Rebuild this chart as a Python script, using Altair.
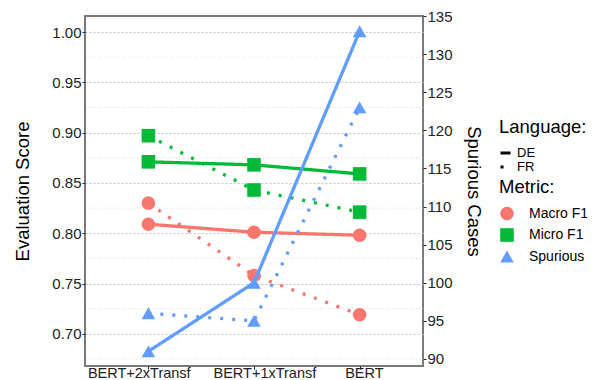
import altair as alt
import pandas as pd

models = ["BERT+2xTransf", "BERT+1xTransf", "BERT"]
macro_de = [0.809, 0.801, 0.798]
macro_fr = [0.830, 0.758, 0.719]
micro_de = [0.871, 0.868, 0.859]
micro_fr = [0.897, 0.843, 0.821]
spur_de = [91, 100, 133]
spur_fr = [96, 95, 123]

metrics = ["Macro F1", "Micro F1", "Spurious"]
languages = ["DE", "FR"]
colors = ["#F8766D", "#00BA38", "#619CFF"]
shapes = ["circle", "square", "triangle-up"]
dashes = [[1, 0], [3, 9]]
left_ticks = [0.70, 0.75, 0.80, 0.85, 0.90, 0.95, 1.00]
minor_grid = [0.675, 0.725, 0.775, 0.825, 0.875, 0.925, 0.975]
right_ticks = [90, 95, 100, 105, 110, 115, 120, 125, 130, 135]


def rows(metric, lang, vals):
    return [{"Model": m, "Metric": metric, "Language": lang, "Value": v}
            for m, v in zip(models, vals)]


f1 = pd.DataFrame(rows("Macro F1", "DE", macro_de) + rows("Macro F1", "FR", macro_fr)
                  + rows("Micro F1", "DE", micro_de) + rows("Micro F1", "FR", micro_fr))
sp = pd.DataFrame(rows("Spurious", "DE", spur_de) + rows("Spurious", "FR", spur_fr))
grid_df = pd.DataFrame({"v": minor_grid})

TXT = "#222222"
FONT = "Liberation Sans"

# label x-shift (layout) for the three category labels, as in the reference
label_offset = {
    "condition": [
        {"test": "datum.value === 'BERT+2xTransf'", "value": -61},
        {"test": "datum.value === 'BERT+1xTransf'", "value": -41},
    ],
    "value": -15,
}

xenc = alt.X("Model:N", sort=models,
             scale=alt.Scale(type="point", padding=0.6),
             axis=alt.Axis(title=None, labelAngle=0, domain=False, tickSize=3,
                           tickColor=TXT, labelFontSize=14.5, labelColor=TXT,
                           labelPadding=-3, labelBaseline="top", labelAlign="left",
                           labelOverlap=False, grid=False, labelOffset=label_offset))

lscale = alt.Scale(domain=[0.668, 1.016], nice=False, zero=False)
rscale = alt.Scale(domain=[89.08, 135], nice=False, zero=False)

color_scale = alt.Scale(domain=metrics, range=colors)
shape_scale = alt.Scale(domain=metrics, range=shapes)
# line colours: same colours, domain taken from the data (sorted = metrics order)
stroke_scale = alt.Scale(range=colors)
dash_scale = alt.Scale(domain=languages, range=dashes)

metric_legend = alt.Legend(title="Metric:", orient="none", legendX=414, legendY=162,
                           titleFontSize=18.5, titleFontWeight="normal", titleColor="#000",
                           titleFont=FONT, labelFont=FONT,
                           labelFontSize=14, labelColor="#000", rowPadding=6.5,
                           labelOffset=14, titlePadding=9, symbolSize=185)
lang_legend = alt.Legend(title="Language:", orient="none", legendX=414, legendY=102,
                         titleFontSize=18.5, titleFontWeight="normal", titleColor="#000",
                         titleFont=FONT, labelFont=FONT,
                         labelFontSize=13, labelColor="#000", rowPadding=-0.5,
                         symbolStrokeWidth=3, symbolSize=100, symbolStrokeColor="#000",
                         symbolType="stroke", labelOffset=5, titlePadding=10)

yl_axis = alt.Axis(title="Evaluation Score", values=left_ticks, format=".2f", grid=True,
                   gridDash=[2, 2], gridColor="#c4c4c4", domain=False, tickColor=TXT,
                   tickSize=3, labelFontSize=15, labelColor=TXT, labelPadding=1,
                   titleFontSize=18.5, titleFontWeight="normal", titleColor="#000",
                   titlePadding=19)
yr_axis = alt.Axis(title="Spurious Cases", orient="right", values=right_ticks, grid=False,
                   domain=False, tickColor=TXT, tickSize=3, labelFontSize=15,
                   labelColor=TXT, labelPadding=1, titleFontSize=18.5,
                   titleFontWeight="normal", titleColor="#000", titlePadding=11)

minor = alt.Chart(grid_df).mark_rule(color="#dedede", strokeDash=[1, 2], strokeWidth=1).encode(
    y=alt.Y("v:Q", scale=lscale, axis=yl_axis))

f1_lines = alt.Chart(f1).mark_line(strokeWidth=3.3).encode(
    x=xenc,
    y=alt.Y("Value:Q", scale=lscale, axis=yl_axis),
    stroke=alt.Stroke("Metric:N", scale=stroke_scale, legend=None),
    strokeDash=alt.StrokeDash("Language:N", scale=dash_scale, legend=lang_legend),
    detail="Language:N")

f1_pts = alt.Chart(f1).mark_point(filled=True, opacity=1, size=185).encode(
    x=xenc,
    y=alt.Y("Value:Q", scale=lscale, axis=yl_axis),
    color=alt.Color("Metric:N", scale=color_scale, legend=metric_legend),
    shape=alt.Shape("Metric:N", scale=shape_scale, legend=metric_legend))

sp_lines = alt.Chart(sp).mark_line(strokeWidth=3.3).encode(
    x=xenc,
    y=alt.Y("Value:Q", scale=rscale, axis=yr_axis),
    stroke=alt.Stroke("Metric:N", scale=stroke_scale, legend=None),
    strokeDash=alt.StrokeDash("Language:N", scale=dash_scale, legend=lang_legend),
    detail="Language:N")

sp_pts = alt.Chart(sp).mark_point(filled=True, opacity=1, size=185).encode(
    x=xenc,
    y=alt.Y("Value:Q", scale=rscale, axis=yr_axis),
    color=alt.Color("Metric:N", scale=color_scale, legend=metric_legend),
    shape=alt.Shape("Metric:N", scale=shape_scale, legend=metric_legend))

left = alt.layer(minor, f1_lines, f1_pts)
right = alt.layer(sp_lines, sp_pts)

chart = alt.layer(left, right).resolve_scale(y="independent").properties(
    width=338, height=350, autosize="none",
    padding={"left": 77, "top": 8, "right": 164, "bottom": 14},
).configure(font=FONT).configure_view(stroke="#7a7a7a", strokeWidth=2)

chart.save("out.html", embed_options={"renderer": "svg", "actions": False})
